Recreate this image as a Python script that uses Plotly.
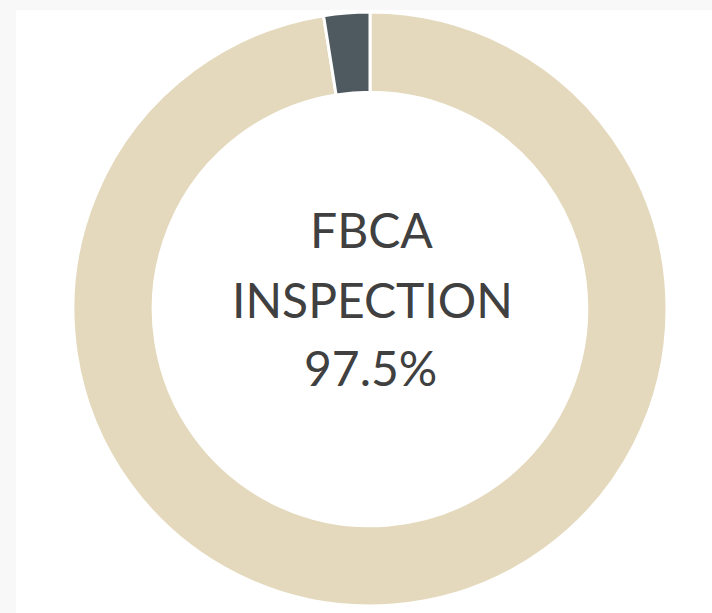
import plotly.graph_objects as go

labels = ["FBCA Inspection", "Other"]
values = [97.5, 2.5]
colors = ["#E4D9BC", "#4E5960"]
center_lines = ["FBCA", "INSPECTION", "97.5%"]

W, H = 712, 613

fig = go.Figure()
fig.add_trace(go.Pie(
    labels=labels,
    values=values,
    hole=0.73,
    sort=False,
    direction="clockwise",
    rotation=0,
    marker=dict(colors=colors, line=dict(color="white", width=3)),
    textinfo="none",
    hoverinfo="label+percent",
    showlegend=False,
    domain=dict(x=[73 / W, 667 / W], y=[7 / H, 601 / H]),
))

line_y = [229, 299, 367]
line_x = [371, 372, 370]
for txt, yy, xx in zip(center_lines, line_y, line_x):
    fig.add_annotation(
        x=xx / W, y=(H - yy) / H, xref="paper", yref="paper",
        text=txt,
        showarrow=False,
        font=dict(family="Lato", size=48, color="#404040"),
        align="center",
        xanchor="center", yanchor="middle",
    )

# faint frame strips at top and left
fig.add_shape(type="rect", xref="paper", yref="paper",
              x0=0, x1=1, y0=(H - 10) / H, y1=1,
              fillcolor="#F8F8F8", line=dict(width=0), layer="below")
fig.add_shape(type="rect", xref="paper", yref="paper",
              x0=0, x1=16 / W, y0=0, y1=1,
              fillcolor="#F8F8F8", line=dict(width=0), layer="below")

fig.update_layout(
    width=W, height=H,
    margin=dict(l=0, r=0, t=0, b=0),
    paper_bgcolor="white",
    plot_bgcolor="white",
)

fig.write_html("out.html")
